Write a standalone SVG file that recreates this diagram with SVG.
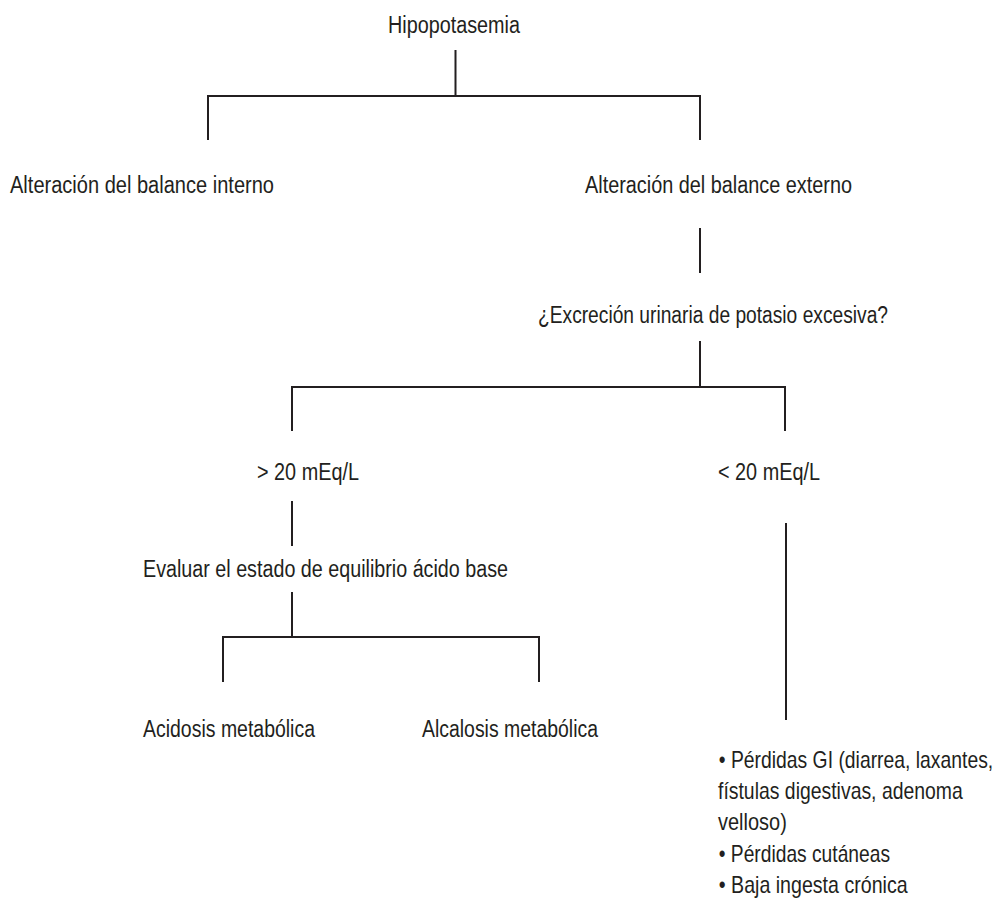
<svg xmlns="http://www.w3.org/2000/svg" width="997" height="898" viewBox="0 0 997 898">
<style>
  text { font-family: "Liberation Sans", "Noto Sans", sans-serif; font-size: 23px; fill: #231f20; }
  .c { stroke: #231f20; stroke-width: 2; fill: none; }
</style>
<rect width="997" height="898" fill="#ffffff"/>
<g id="connectors" class="c">
  <path d="M455.5 50 V96 M208 140 V96 H700 V140"/>
  <path d="M700 228 V273"/>
  <path d="M700 341 V387 M292 431 V387 H785 V431"/>
  <path d="M292 501 V546"/>
  <path d="M292 592 V637 M223 682 V637 H539 V682"/>
  <path d="M786 523 V720"/>
</g>
<g id="n-hipopotasemia"><text x="388" y="33" textLength="132" lengthAdjust="spacingAndGlyphs">Hipopotasemia</text></g>
<g id="n-interno"><text x="10" y="193" textLength="264" lengthAdjust="spacingAndGlyphs">Alteración del balance interno</text></g>
<g id="n-externo"><text x="585" y="193" textLength="267" lengthAdjust="spacingAndGlyphs">Alteración del balance externo</text></g>
<g id="n-excrecion"><text x="538" y="323" textLength="350" lengthAdjust="spacingAndGlyphs">¿Excreción urinaria de potasio excesiva?</text></g>
<g id="n-mayor20"><text x="257" y="480" textLength="102" lengthAdjust="spacingAndGlyphs">&gt; 20 mEq/L</text></g>
<g id="n-menor20"><text x="718" y="480" textLength="102" lengthAdjust="spacingAndGlyphs">&lt; 20 mEq/L</text></g>
<g id="n-evaluar"><text x="143" y="577" textLength="365" lengthAdjust="spacingAndGlyphs">Evaluar el estado de equilibrio ácido base</text></g>
<g id="n-acidosis"><text x="143" y="737" textLength="172" lengthAdjust="spacingAndGlyphs">Acidosis metabólica</text></g>
<g id="n-alcalosis"><text x="422" y="737" textLength="176" lengthAdjust="spacingAndGlyphs">Alcalosis metabólica</text></g>
<g id="n-causas" transform="translate(718 0) scale(0.8 1)">
  <text x="1" y="768" textLength="343" lengthAdjust="spacingAndGlyphs">• Pérdidas GI (diarrea, laxantes,</text>
  <text x="0" y="799" textLength="306" lengthAdjust="spacingAndGlyphs">fístulas digestivas, adenoma</text>
  <text x="0" y="830" textLength="86" lengthAdjust="spacingAndGlyphs">velloso)</text>
  <text x="1" y="862" textLength="214" lengthAdjust="spacingAndGlyphs">• Pérdidas cutáneas</text>
  <text x="1" y="893" textLength="236" lengthAdjust="spacingAndGlyphs">• Baja ingesta crónica</text>
</g>
</svg>
